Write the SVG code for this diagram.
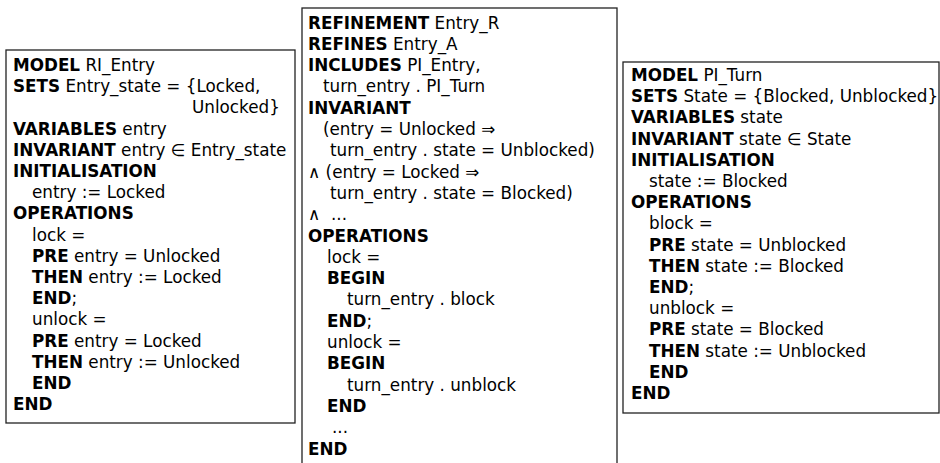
<svg xmlns="http://www.w3.org/2000/svg" width="940" height="463" viewBox="0 0 940 463">
<style>
.box{fill:#fff;stroke:#222;stroke-width:1.3}
text{font-family:"DejaVu Sans",sans-serif;font-size:16.8px;fill:#000}
.b{font-weight:bold}
</style>
<rect width="940" height="463" fill="#fff"/>
<g id="model-ri-entry">
<rect class="box" x="6" y="50" width="289" height="373"/>
<text x="13" y="71"><tspan class="b">MODEL</tspan> RI_Entry</text>
<text x="13" y="92.2"><tspan class="b">SETS</tspan> Entry_state = {Locked,</text>
<text x="192" y="113.4">Unlocked}</text>
<text x="13" y="134.6"><tspan class="b">VARIABLES</tspan> entry</text>
<text x="13" y="155.8"><tspan class="b">INVARIANT</tspan> entry ∈ Entry_state</text>
<text x="13" y="177" class="b">INITIALISATION</text>
<text x="32" y="198.2">entry := Locked</text>
<text x="13" y="219.4" class="b">OPERATIONS</text>
<text x="32" y="240.6">lock =</text>
<text x="32" y="261.8"><tspan class="b">PRE</tspan> entry = Unlocked</text>
<text x="32" y="283"><tspan class="b">THEN</tspan> entry := Locked</text>
<text x="32" y="304.2"><tspan class="b">END</tspan>;</text>
<text x="32" y="325.4">unlock =</text>
<text x="32" y="346.6"><tspan class="b">PRE</tspan> entry = Locked</text>
<text x="32" y="367.8"><tspan class="b">THEN</tspan> entry := Unlocked</text>
<text x="32" y="389" class="b">END</text>
<text x="13" y="410.2" class="b">END</text>
</g>
<g id="refinement-entry-r">
<rect class="box" x="302" y="8" width="315" height="460"/>
<text x="308" y="28.5"><tspan class="b">REFINEMENT</tspan> Entry_R</text>
<text x="308" y="49.8"><tspan class="b">REFINES</tspan> Entry_A</text>
<text x="308" y="71.1"><tspan class="b">INCLUDES</tspan> PI_Entry,</text>
<text x="323" y="92.4">turn_entry . PI_Turn</text>
<text x="308" y="113.7" class="b">INVARIANT</text>
<text x="323" y="135">(entry = Unlocked ⇒</text>
<text x="330" y="156.3">turn_entry . state = Unblocked)</text>
<text x="308" y="177.6">∧ (entry = Locked ⇒</text>
<text x="330" y="198.9">turn_entry . state = Blocked)</text>
<text x="308" y="220.2">∧<tspan x="331">...</tspan></text>
<text x="308" y="241.5" class="b">OPERATIONS</text>
<text x="327" y="262.8">lock =</text>
<text x="327" y="284.1" class="b">BEGIN</text>
<text x="347" y="305.4">turn_entry . block</text>
<text x="327" y="326.7"><tspan class="b">END</tspan>;</text>
<text x="327" y="348">unlock =</text>
<text x="327" y="369.3" class="b">BEGIN</text>
<text x="347" y="390.6">turn_entry . unblock</text>
<text x="327" y="411.9" class="b">END</text>
<text x="332" y="433.2">...</text>
<text x="308" y="454.5" class="b">END</text>
</g>
<g id="model-pi-turn">
<rect class="box" x="623" y="62" width="316" height="351"/>
<text x="631" y="81"><tspan class="b">MODEL</tspan> PI_Turn</text>
<text x="631" y="102.2"><tspan class="b">SETS</tspan> State = {Blocked, Unblocked}</text>
<text x="631" y="123.4"><tspan class="b">VARIABLES</tspan> state</text>
<text x="631" y="144.6"><tspan class="b">INVARIANT</tspan> state ∈ State</text>
<text x="631" y="165.8" class="b">INITIALISATION</text>
<text x="649" y="187">state := Blocked</text>
<text x="631" y="208.2" class="b">OPERATIONS</text>
<text x="649" y="229.4">block =</text>
<text x="649" y="250.6"><tspan class="b">PRE</tspan> state = Unblocked</text>
<text x="649" y="271.8"><tspan class="b">THEN</tspan> state := Blocked</text>
<text x="649" y="293"><tspan class="b">END</tspan>;</text>
<text x="649" y="314.2">unblock =</text>
<text x="649" y="335.4"><tspan class="b">PRE</tspan> state = Blocked</text>
<text x="649" y="356.6"><tspan class="b">THEN</tspan> state := Unblocked</text>
<text x="649" y="377.8" class="b">END</text>
<text x="631" y="399" class="b">END</text>
</g>
</svg>
